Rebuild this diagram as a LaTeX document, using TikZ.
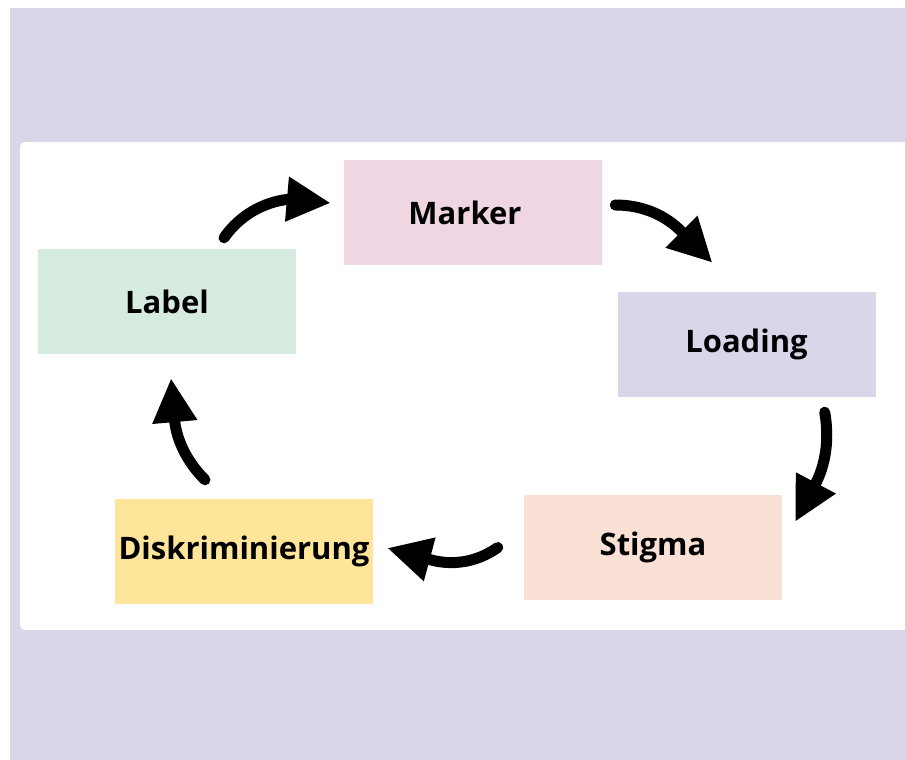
\documentclass[tikz,border=0pt]{standalone}
\usepackage{fontspec}
\setmainfont{Open Sans}
\usetikzlibrary{arrows.meta,positioning}

\definecolor{lila}{HTML}{D8D6E8}
\definecolor{rosa}{HTML}{F0D6E2}
\definecolor{pfirsich}{HTML}{FAE1D5}
\definecolor{gelb}{HTML}{FEE59A}
\definecolor{mint}{HTML}{D6EBDF}

\begin{document}
\begin{tikzpicture}[x=1pt,y=1pt,
	kasten/.style={rectangle,minimum width=258pt,minimum height=105pt,inner sep=0pt,font=\fontsize{31}{36}\selectfont\bfseries},
	pfeil/.style={line width=11pt,line cap=round,-{Triangle[length=44pt,width=42pt]}}]

%-------------------------------------------------------------------------------
% Hintergrund
%-------------------------------------------------------------------------------
\useasboundingbox (0,0) rectangle (905,760);
\fill[white] (0,0) rectangle (905,760);
\fill[lila] (10,0) rectangle (905,752);
\fill[white,rounded corners=5pt] (20,130) rectangle (915,618);

%-------------------------------------------------------------------------------
% Kaesten
%-------------------------------------------------------------------------------
\node (marker) [kasten,fill=rosa]	at (473,547)	{\hspace*{-16pt}Marker};
\node (loading) [kasten,fill=lila]	at (746.5,415.5)	{Loading};
\node (stigma) [kasten,fill=pfirsich]	at (653,212.5)	{Stigma};
\node (diskr) [kasten,fill=gelb]	at (244,208.5)	{Diskriminierung};
\node (label) [kasten,fill=mint]	at (167,458.5)	{Label};

%-------------------------------------------------------------------------------
% Kreislauf
%-------------------------------------------------------------------------------
\draw [pfeil] ([shift={(57,11)}]label.north) to[out=55,in=175] ([shift={(-13,10)}]marker.west);
\draw [pfeil] ([shift={(13,8)}]marker.east) to[out=0,in=135] ([shift={(-34,29)}]loading.north);
\draw [pfeil] ([shift={(-51,-15)}]loading.south east) to[out=-80,in=62] ([shift={(13,-27)}]stigma.north east);
\draw [pfeil] ([shift={(-26,0)}]stigma.west) to[out=215,in=-15] ([shift={(14,3.5)}]diskr.east);
\draw [pfeil] ([shift={(-39,19)}]diskr.north) to[out=135,in=-85] ([shift={(4,-24)}]label.south);
\end{tikzpicture}
\end{document}
